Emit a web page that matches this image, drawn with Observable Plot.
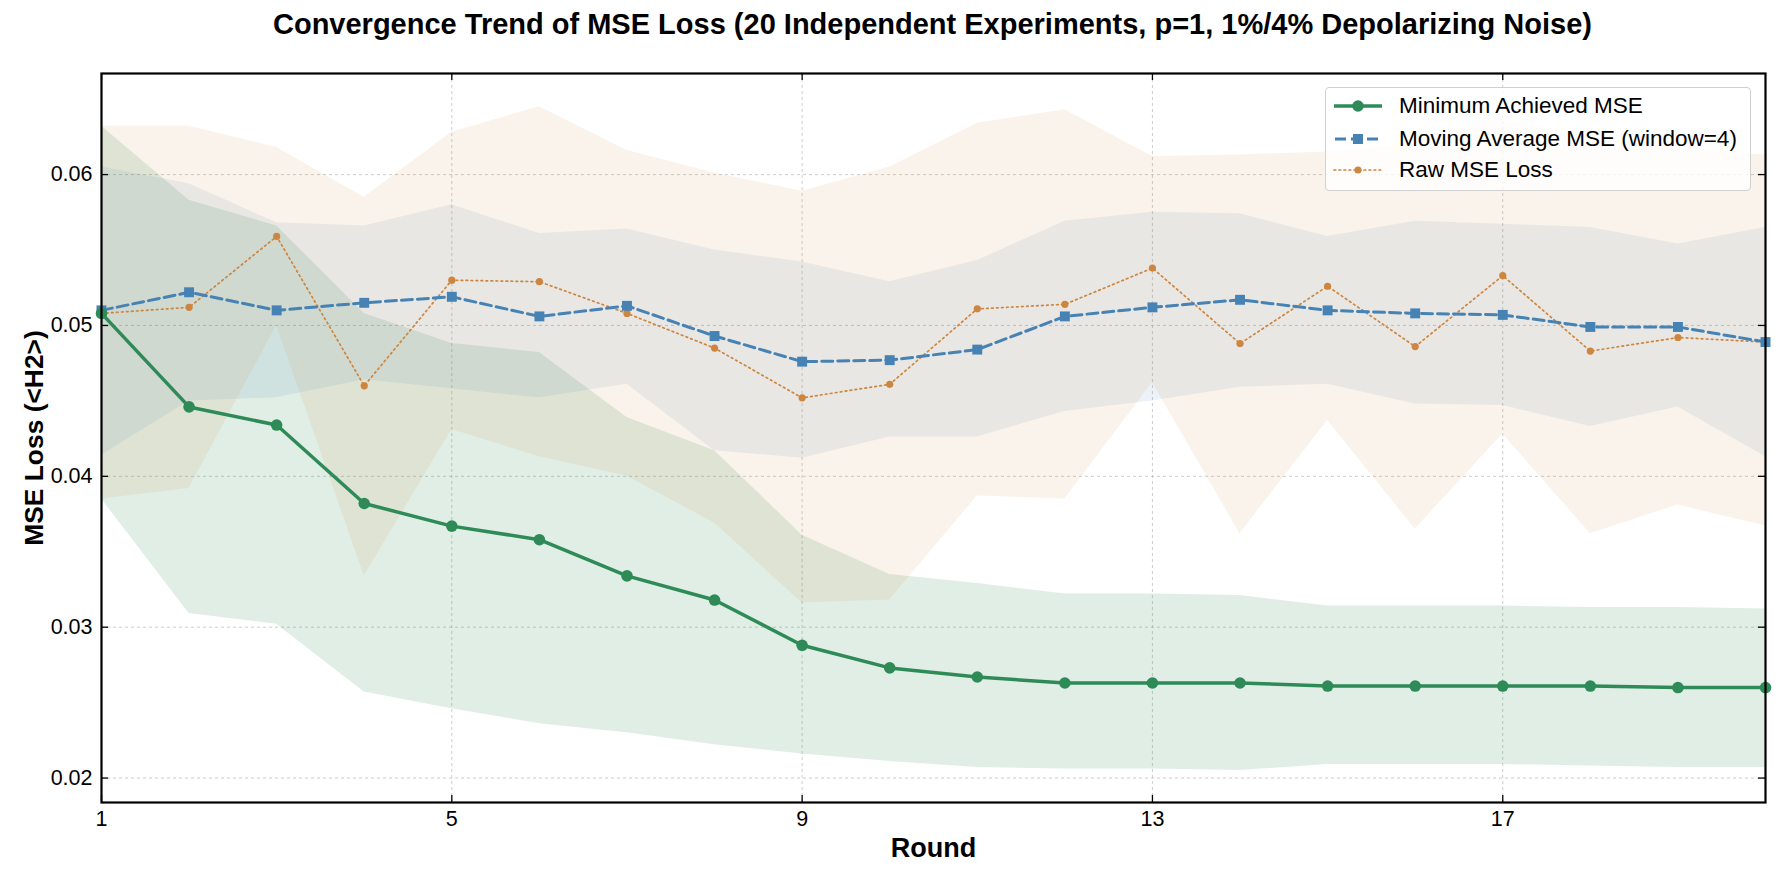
<!DOCTYPE html>
<html>
<head>
<meta charset="utf-8">
<script src="https://cdn.jsdelivr.net/npm/d3@7"></script>
<script src="https://cdn.jsdelivr.net/npm/@observablehq/plot@0.6"></script>
<style>
  html, body { margin: 0; padding: 0; background: white; }
  body { width: 1781px; height: 880px; overflow: hidden; font-family: "Liberation Sans", Arial, sans-serif; }
  #wrap { position: relative; width: 1781px; height: 880px; }
  #title { height: 48px; display: flex; align-items: center; justify-content: center; padding-left: 84px;
           font-weight: bold; font-size: 29px; color: black; box-sizing: border-box; white-space: nowrap; }
  #legend { position: absolute; left: 1325px; top: 87px; width: 426px; height: 104px; box-sizing: border-box;
            border: 1px solid #d0d0d0; border-radius: 4px; background: rgba(255,255,255,0.8); }
  .row { position: absolute; left: 6px; height: 30px; display: flex; align-items: center; }
  .row svg { width: 52px; height: 30px; }
  .row span { margin-left: 15px; font-size: 22.5px; color: black; white-space: nowrap; }
</style>
</head>
<body>
<div id="wrap">
  <div id="title">Convergence Trend of MSE Loss (20 Independent Experiments, p=1, 1%/4% Depolarizing Noise)</div>
  <div id="chart"></div>
  <div id="legend"></div>
</div>
<script>
const rounds = [1,2,3,4,5,6,7,8,9,10,11,12,13,14,15,16,17,18,19,20];

const minMSE = [0.0508,0.0446,0.0434,0.0382,0.0367,0.0358,0.0334,0.0318,0.0288,0.0273,0.0267,0.0263,0.0263,0.0263,0.0261,0.0261,0.0261,0.0261,0.0260,0.0260];
const minLo  = [0.0385,0.0309,0.0302,0.0257,0.0246,0.0236,0.0230,0.0222,0.0216,0.0211,0.0207,0.0206,0.0206,0.0205,0.0209,0.0209,0.0209,0.0208,0.0207,0.0207];
const minHi  = [0.0632,0.0583,0.0566,0.0508,0.0488,0.0482,0.0439,0.0417,0.0361,0.0335,0.0329,0.0322,0.0322,0.0321,0.0314,0.0314,0.0314,0.0313,0.0313,0.0312];

const avgMSE = [0.0510,0.0522,0.0510,0.0515,0.0519,0.0506,0.0513,0.0493,0.0476,0.0477,0.0484,0.0506,0.0512,0.0517,0.0510,0.0508,0.0507,0.0499,0.0499,0.0489];
const avgLo  = [0.0414,0.0450,0.0452,0.0464,0.0458,0.0452,0.0461,0.0417,0.0412,0.0426,0.0426,0.0443,0.0450,0.0459,0.0461,0.0448,0.0447,0.0433,0.0446,0.0413];
const avgHi  = [0.0605,0.0594,0.0568,0.0566,0.0580,0.0561,0.0564,0.0550,0.0542,0.0529,0.0543,0.0569,0.0575,0.0574,0.0559,0.0569,0.0567,0.0565,0.0554,0.0565];

const rawMSE = [0.0508,0.0512,0.0559,0.0460,0.0530,0.0529,0.0508,0.0485,0.0452,0.0461,0.0511,0.0514,0.0538,0.0488,0.0526,0.0486,0.0533,0.0483,0.0492,0.0489];
const rawLo  = [0.0385,0.0392,0.0500,0.0334,0.0431,0.0413,0.0400,0.0369,0.0316,0.0318,0.0387,0.0385,0.0462,0.0362,0.0437,0.0365,0.0428,0.0362,0.0381,0.0367];
const rawHi  = [0.0632,0.0632,0.0618,0.0585,0.0628,0.0645,0.0616,0.0601,0.0589,0.0605,0.0634,0.0643,0.0612,0.0613,0.0615,0.0620,0.0636,0.0625,0.0617,0.0613];

const xTicks = [1,5,9,13,17];
const yTicks = [0.02,0.03,0.04,0.05,0.06];
const seriesNames = ["Minimum Achieved MSE","Moving Average MSE (window=4)","Raw MSE Loss"];
const xLabel = "Round";
const yLabel = "MSE Loss (<H2>)";

const GREEN = "#2e8b57", BLUE = "#4682b4", ORANGE = "#cd853f";

const data = rounds.map((r, i) => ({
  round: r,
  minMSE: minMSE[i], minLo: minLo[i], minHi: minHi[i],
  avgMSE: avgMSE[i], avgLo: avgLo[i], avgHi: avgHi[i],
  rawMSE: rawMSE[i], rawLo: rawLo[i], rawHi: rawHi[i]
}));

const W = 1781, H = 832, mT = 25, mB = 78, mL = 101, mR = 16;
const innerW = W - mL - mR, innerH = H - mT - mB;
const TL = 7;

const chart = Plot.plot({
  width: W, height: H,
  marginTop: mT, marginBottom: mB, marginLeft: mL, marginRight: mR,
  style: { fontFamily: "'Liberation Sans', Arial, sans-serif", background: "white", color: "black", overflow: "visible" },
  x: { domain: [1, 20] },
  y: { domain: [0.01838, 0.0667] },
  marks: [
    Plot.gridX(xTicks, { stroke: "#b0b0b0", strokeOpacity: 0.7, strokeWidth: 0.9, strokeDasharray: "3,3" }),
    Plot.gridY(yTicks, { stroke: "#b0b0b0", strokeOpacity: 0.7, strokeWidth: 0.9, strokeDasharray: "3,3" }),
    Plot.areaY(data, { x: "round", y1: "minLo", y2: "minHi", fill: GREEN, fillOpacity: 0.15 }),
    Plot.areaY(data, { x: "round", y1: "avgLo", y2: "avgHi", fill: BLUE, fillOpacity: 0.1 }),
    Plot.areaY(data, { x: "round", y1: "rawLo", y2: "rawHi", fill: ORANGE, fillOpacity: 0.1 }),
    Plot.lineY(data, { x: "round", y: "rawMSE", stroke: ORANGE, strokeWidth: 1.7, strokeDasharray: "1.7,3.3", strokeLinecap: "round" }),
    Plot.dot(data, { x: "round", y: "rawMSE", fill: ORANGE, r: 3.6 }),
    Plot.lineY(data, { x: "round", y: "avgMSE", stroke: BLUE, strokeWidth: 3, strokeDasharray: "11,5" }),
    Plot.dot(data, { x: "round", y: "avgMSE", fill: BLUE, symbol: "square", r: 5.6 }),
    Plot.lineY(data, { x: "round", y: "minMSE", stroke: GREEN, strokeWidth: 3.5 }),
    Plot.dot(data, { x: "round", y: "minMSE", fill: GREEN, r: 5.8 }),
    Plot.frame({ stroke: "black", strokeWidth: 2.2 }),
    Plot.ruleX(xTicks, { x: d => d, insetTop: innerH - TL, stroke: "black", strokeWidth: 1.3 }),
    Plot.ruleX(xTicks, { x: d => d, insetBottom: innerH - TL, stroke: "black", strokeWidth: 1.3 }),
    Plot.ruleY(yTicks, { y: d => d, insetRight: innerW - TL, stroke: "black", strokeWidth: 1.3 }),
    Plot.ruleY(yTicks, { y: d => d, insetLeft: innerW - TL, stroke: "black", strokeWidth: 1.3 }),
    Plot.axisX(xTicks, { tickSize: 0, tickPadding: 8, fontSize: 21.5, tickFormat: d => String(d), label: null }),
    Plot.axisY(yTicks, { tickSize: 0, tickPadding: 9, fontSize: 21.5, tickFormat: d3.format(".2f"), label: null }),
    Plot.text([xLabel], { text: d => d, frameAnchor: "bottom", textAnchor: "middle", lineAnchor: "middle", dy: 46, fontSize: 27, fontWeight: "bold", fill: "black" }),
    Plot.text([yLabel], { text: d => d, frameAnchor: "left", textAnchor: "middle", lineAnchor: "middle", dx: -67, rotate: -90, fontSize: 26.4, fontWeight: "bold", fill: "black" })
  ]
});
document.getElementById("chart").appendChild(chart);

// Legend
const legend = document.getElementById("legend");
const swatches = [
  `<svg viewBox="0 0 52 30"><line x1="2" y1="15" x2="50" y2="15" stroke="${GREEN}" stroke-width="3.5"/><circle cx="26" cy="15" r="5.8" fill="${GREEN}"/></svg>`,
  `<svg viewBox="0 0 52 30"><line x1="2" y1="15" x2="50" y2="15" stroke="${BLUE}" stroke-width="3" stroke-dasharray="11,5" stroke-dashoffset="-1"/><rect x="21" y="10" width="10" height="10" fill="${BLUE}"/></svg>`,
  `<svg viewBox="0 0 52 30"><line x1="2" y1="15" x2="50" y2="15" stroke="${ORANGE}" stroke-width="1.7" stroke-dasharray="1.7,3.3" stroke-linecap="round"/><circle cx="26" cy="15" r="3.6" fill="${ORANGE}"/></svg>`
];
const rowTops = [3, 36, 67];
seriesNames.forEach((name, i) => {
  const row = document.createElement("div");
  row.className = "row";
  row.style.top = rowTops[i] + "px";
  row.innerHTML = swatches[i] + `<span>${name}</span>`;
  legend.appendChild(row);
});
</script>
</body>
</html>
